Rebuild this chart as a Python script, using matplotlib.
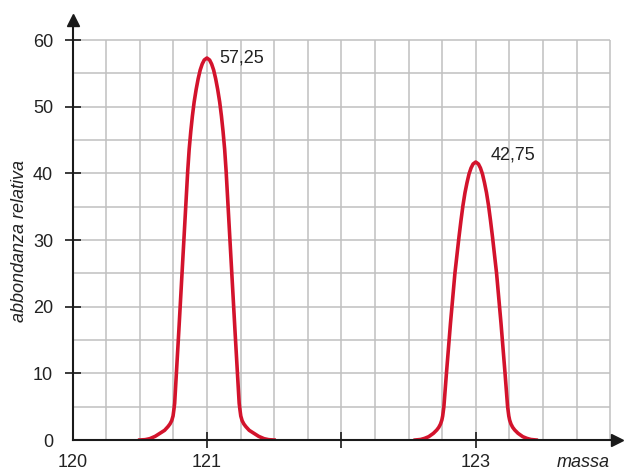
import matplotlib.pyplot as plt

plt.rcParams['font.family'] = ['Liberation Sans', 'DejaVu Sans']

# peaks: centre (massa) and half profile
# (distance from centre, abbondanza relativa); the two flanks are symmetric
peak_centers = [121.0, 123.0]

peak1_dx = [0.0, 0.02, 0.035, 0.05, 0.065, 0.08, 0.095, 0.108, 0.12, 0.132,
            0.143, 0.17, 0.21, 0.24, 0.246, 0.252, 0.262, 0.275, 0.29, 0.315,
            0.35, 0.385, 0.425, 0.46, 0.50]
peak1_y = [57.3, 57.0, 56.4, 55.5, 54.2, 52.6, 50.7, 48.6, 46.3, 43.6,
           40.3, 30.5, 16.0, 5.5, 4.5, 3.6, 2.9, 2.4, 2.0, 1.45,
           1.0, 0.55, 0.2, 0.05, 0.0]

peak2_dx = [0.0, 0.02, 0.035, 0.05, 0.065, 0.08, 0.095, 0.11, 0.125, 0.155,
            0.188, 0.218, 0.237, 0.246, 0.252, 0.262, 0.275, 0.29, 0.315, 0.35,
            0.38, 0.41, 0.45]
peak2_y = [41.7, 41.4, 40.8, 39.9, 38.6, 37.1, 35.2, 32.9, 30.4, 25.0,
           17.5, 10.0, 5.0, 3.6, 3.0, 2.4, 1.9, 1.5, 1.0, 0.5,
           0.25, 0.08, 0.0]

peak_labels = ['57,25', '42,75']
label_x = [121.09, 123.11]
label_y = [57.25, 42.7]

xtick_vals = [120, 121, 122, 123]
xtick_labels = ['120', '121', '', '123']
ytick_vals = [0, 10, 20, 30, 40, 50, 60]
grid_x = [120 + 0.25 * i for i in range(1, 17)]
grid_y = [5 * i for i in range(1, 13)]

fig = plt.figure(figsize=(6.25, 4.71), dpi=100)
ax = fig.add_axes([0.116, 0.0658, 0.871, 0.8917])
ax.set_xlim(120, 124.05)
ax.set_ylim(0, 63.0)

# grid
ax.vlines(grid_x, 0, 60, color='#c0c0c0', lw=1.1, zorder=1)
ax.hlines(grid_y, 120, 124, color='#c0c0c0', lw=1.1, zorder=1)

for c, dx, ys in zip(peak_centers, [peak1_dx, peak2_dx], [peak1_y, peak2_y]):
    xs = [c - d for d in dx[::-1]] + [c + d for d in dx[1:]]
    yy = ys[::-1] + ys[1:]
    ax.plot(xs, yy, color='#d3132c', lw=2.6, zorder=2, solid_joinstyle='round')

for t, x, y in zip(peak_labels, label_x, label_y):
    ax.text(x, y, t, ha='left', va='center', fontsize=13, color='#222222')

for s in ['top', 'right']:
    ax.spines[s].set_visible(False)
for s in ['left', 'bottom']:
    ax.spines[s].set_linewidth(1.5)
    ax.spines[s].set_color('#1a1a1a')
    ax.spines[s].set_zorder(3)

# arrow heads
ax.plot(1, 0, '>', color='#1a1a1a', ms=9, transform=ax.transAxes, clip_on=False)
ax.plot(0, 1, '^', color='#1a1a1a', ms=9, transform=ax.transAxes, clip_on=False)

ax.set_xticks(xtick_vals)
ax.set_xticklabels(xtick_labels)
ax.set_yticks(ytick_vals)
ax.tick_params(axis='both', direction='inout', length=12, width=1.2, color='#1a1a1a',
               labelsize=13, labelcolor='#222222')
ax.tick_params(axis='x', pad=4)
ax.tick_params(axis='y', pad=8)
ax.xaxis.get_major_ticks()[0].tick1line.set_visible(False)
ax.yaxis.get_major_ticks()[0].tick1line.set_visible(False)

ax.text(124.0, -3.4, 'massa', ha='right', va='center', fontsize=13, style='italic', color='#222222')
ax.set_ylabel('abbondanza relativa', fontsize=13, style='italic', color='#222222')
ax.yaxis.set_label_coords(-0.082, 0.475)

fig.savefig('out.png', dpi=100)
